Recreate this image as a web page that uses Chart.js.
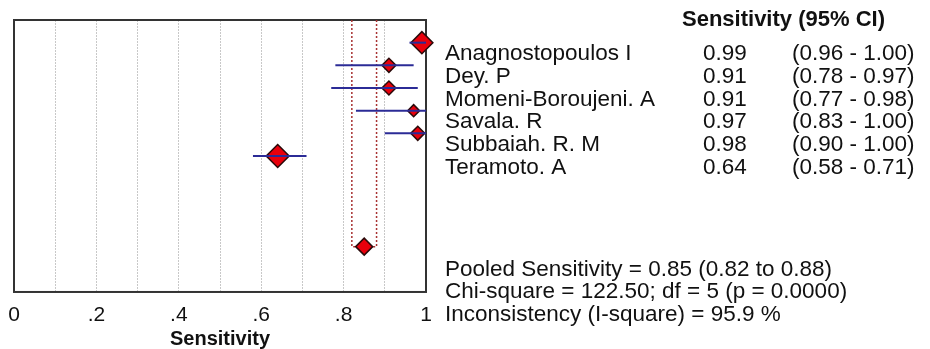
<!DOCTYPE html>
<html>
<head>
<meta charset="utf-8">
<script src="https://cdn.jsdelivr.net/npm/chart.js@4.4.1/dist/chart.umd.min.js"></script>
<style>
  html, body { margin: 0; padding: 0; background: #fff; }
  #wrap { width: 930px; height: 349px; }
</style>
</head>
<body>
<div id="wrap"><canvas id="forest"></canvas></div>
<script>
// Studies and their sensitivity estimates
const studies = ['Anagnostopoulos I', 'Dey. P', 'Momeni-Boroujeni. A', 'Savala. R', 'Subbaiah. R. M', 'Teramoto. A'];
const sens = [0.99, 0.91, 0.91, 0.97, 0.98, 0.64];
const ciLow = [0.96, 0.78, 0.77, 0.83, 0.90, 0.58];
const ciHigh = [1.00, 0.97, 0.98, 1.00, 1.00, 0.71];

// Pooled result and heterogeneity
const pooled = 0.85;
const pooledLow = 0.82;
const pooledHigh = 0.88;
const chiSquare = '122.50';
const df = 5;
const pValue = '0.0000';
const iSquare = '95.9';

// Axis
const xTickValues = [0, 0.2, 0.4, 0.6, 0.8, 1];
const xTickLabels = ['0', '.2', '.4', '.6', '.8', '1'];

const pooledRow = studies.length + 3;
const FONT = '"Liberation Sans", Arial, Helvetica, sans-serif';

const ciSets = studies.map((s, i) => ({
    type: 'scatter',
    showLine: true,
    data: [{x: ciLow[i], y: i}, {x: ciHigh[i], y: i}],
    borderColor: '#2b2b96',
    borderWidth: 2,
    pointRadius: 0
}));

// Frame and text table
const forestText = {
    id: 'forestText',
    beforeDatasetsDraw(chart) {
        const {ctx, chartArea: a} = chart;
        ctx.save();
        ctx.strokeStyle = '#333';
        ctx.lineWidth = 2;
        ctx.strokeRect(a.left, a.top, a.width, a.height);
        ctx.restore();
    },
    afterDraw(chart) {
        const ctx = chart.ctx;
        const y = chart.scales.y;
        ctx.save();
        ctx.fillStyle = '#111';
        ctx.textBaseline = 'middle';
        ctx.textAlign = 'left';
        ctx.font = 'bold 22px ' + FONT;
        ctx.fillText('Sensitivity (95% CI)', 682, y.getPixelForValue(-1));
        ctx.font = '22.5px ' + FONT;
        studies.forEach((s, i) => {
            const py = y.getPixelForValue(i + 0.5);
            ctx.fillText(s, 445, py);
            ctx.fillText(sens[i].toFixed(2), 703, py);
            ctx.fillText('(' + ciLow[i].toFixed(2) + ' - ' + ciHigh[i].toFixed(2) + ')', 792, py);
        });
        const notes = [
            'Pooled Sensitivity = ' + pooled.toFixed(2) + ' (' + pooledLow.toFixed(2) + ' to ' + pooledHigh.toFixed(2) + ')',
            'Chi-square = ' + chiSquare + '; df = ' + df + ' (p = ' + pValue + ')',
            'Inconsistency (I-square) = ' + iSquare + ' %'
        ];
        notes.forEach((t, k) => ctx.fillText(t, 445, y.getPixelForValue(pooledRow + 1 + k)));
        ctx.restore();
    }
};

new Chart(document.getElementById('forest'), {
    type: 'scatter',
    data: {
        datasets: [
            ...ciSets,
            {
                data: studies.map((s, i) => ({x: sens[i], y: i})),
                pointStyle: 'rectRot',
                pointRadius: [11, 7, 7, 6, 7, 11.5],
                backgroundColor: '#e8000c',
                borderColor: '#2a0a0a',
                borderWidth: 1.5,
                clip: false
            },
            {
                data: [{x: pooled, y: pooledRow}],
                pointStyle: 'rectRot',
                pointRadius: 8.5,
                backgroundColor: '#e8000c',
                borderColor: '#2a0a0a',
                borderWidth: 1.5
            },
            {
                showLine: true,
                data: [
                    {x: pooledLow, y: -1}, {x: pooledLow, y: pooledRow},
                    {x: pooledHigh, y: pooledRow}, {x: pooledHigh, y: -1}
                ],
                borderColor: '#a83232',
                borderDash: [2, 2],
                borderWidth: 1.5,
                pointRadius: 0
            }
        ]
    },
    options: {
        responsive: true,
        maintainAspectRatio: false,
        animation: false,
        layout: {padding: {left: 14, right: 504, top: 20, bottom: 0}},
        plugins: {
            legend: {display: false},
            tooltip: {enabled: false}
        },
        scales: {
            x: {
                min: 0,
                max: 1,
                ticks: {
                    stepSize: 0.1,
                    padding: 8,
                    autoSkip: false,
                    maxRotation: 0,
                    color: '#111',
                    font: {family: FONT, size: 21, lineHeight: 1.43},
                    callback: (v) => {
                        const k = xTickValues.findIndex(t => Math.abs(t - v) < 1e-6);
                        return k >= 0 ? xTickLabels[k] : '';
                    }
                },
                grid: {color: '#c8c8c8', lineWidth: 1, drawTicks: false},
                border: {display: false, dash: [2, 1]},
                title: {
                    display: true,
                    text: 'Sensitivity',
                    color: '#111',
                    font: {family: FONT, size: 20, weight: 'bold', lineHeight: 1},
                    padding: {top: -9, bottom: 0}
                }
            },
            y: {
                display: false,
                reverse: true,
                min: -1,
                max: pooledRow + 2
            }
        }
    },
    plugins: [forestText]
});
</script>
</body>
</html>
